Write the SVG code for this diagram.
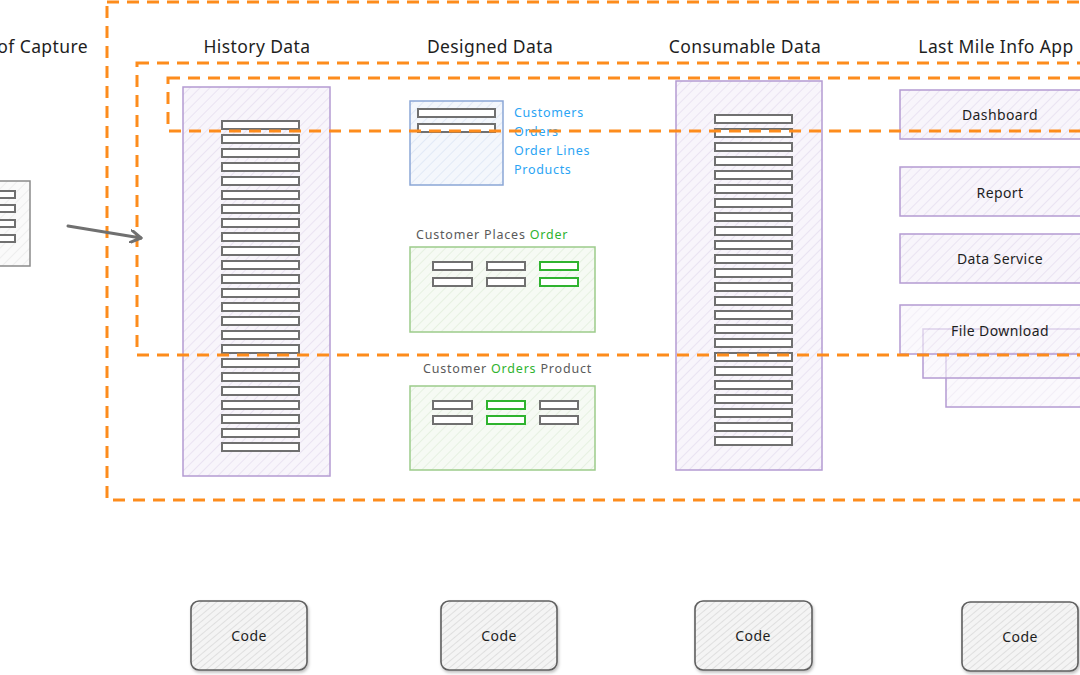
<svg xmlns="http://www.w3.org/2000/svg" width="1080" height="675" viewBox="0 0 1080 675">
<style>
text{font-family:"Noto Sans","DejaVu Sans",sans-serif;}
.h{font-size:17.5px;fill:#1e1e1e;text-anchor:middle;letter-spacing:0.4px;}
.orange{fill:none;stroke:#fd8c1c;stroke-width:3;stroke-dasharray:12 8;}
.pbox{fill:url(#hp);stroke:#b49bd2;stroke-width:1.5;}
.bar{fill:#fff;stroke:#707070;stroke-width:2;}
.gbar{fill:#fff;stroke:#2fb32f;stroke-width:2;}
.lbl{font-size:14px;fill:#1e1e1e;text-anchor:middle;letter-spacing:0.4px;}
.blue{font-size:12.5px;fill:#2aa4f4;letter-spacing:0.7px;}
.gl{font-size:12.5px;fill:#5a5a5a;letter-spacing:0.8px;}
.code{fill:url(#hg);stroke:#5f5f5f;stroke-width:1.6;filter:url(#sh);}
</style>
<defs>
<pattern id="hp" width="7" height="7" patternUnits="userSpaceOnUse" patternTransform="rotate(45)"><rect width="7" height="7" fill="#f8f5fb"/><line x1="0" y1="0" x2="0" y2="7" stroke="#e1d8ec" stroke-width="1.2"/></pattern>
<pattern id="hb" width="7" height="7" patternUnits="userSpaceOnUse" patternTransform="rotate(45)"><rect width="7" height="7" fill="#f4f7fc"/><line x1="0" y1="0" x2="0" y2="7" stroke="#d5e0f2" stroke-width="1.2"/></pattern>
<pattern id="hgr" width="7" height="7" patternUnits="userSpaceOnUse" patternTransform="rotate(45)"><rect width="7" height="7" fill="#f6faf4"/><line x1="0" y1="0" x2="0" y2="7" stroke="#dcebd5" stroke-width="1.2"/></pattern>
<pattern id="hg" width="5" height="5" patternUnits="userSpaceOnUse" patternTransform="rotate(50)"><rect width="5" height="5" fill="#f4f4f4"/><line x1="0" y1="0" x2="0" y2="5" stroke="#cfcfcf" stroke-width="1.1"/></pattern>
<pattern id="hq" width="7" height="7" patternUnits="userSpaceOnUse" patternTransform="rotate(45)"><rect width="7" height="7" fill="#fafafa"/><line x1="0" y1="0" x2="0" y2="7" stroke="#e6e6e6" stroke-width="1.2"/></pattern>
<filter id="sh" x="-10%" y="-10%" width="130%" height="130%"><feDropShadow dx="1" dy="2" stdDeviation="1.5" flood-color="#000" flood-opacity="0.25"/></filter>
<marker id="arr" markerWidth="14" markerHeight="14" refX="11" refY="7" orient="auto" markerUnits="userSpaceOnUse"><path d="M1,1 L11,7 L1,13" fill="none" stroke="#707070" stroke-width="3" stroke-linecap="round" stroke-linejoin="round"/></marker>
</defs>
<rect width="1080" height="675" fill="#fff"/>

<!-- headings -->
<text x="88" y="53" class="h" style="text-anchor:end">of Capture</text>
<text x="257" y="53" class="h">History Data</text>
<text x="490" y="53" class="h">Designed Data</text>
<text x="745" y="53" class="h">Consumable Data</text>
<text x="996" y="53" class="h">Last Mile Info App</text>

<!-- source (partial) -->
<g id="source">
<rect x="-10" y="181" width="40" height="85" fill="url(#hq)" stroke="#8a8a8a" stroke-width="1.5"/>
<rect class="bar" x="-20" y="191" width="35" height="7"/>
<rect class="bar" x="-20" y="205" width="35" height="7"/>
<rect class="bar" x="-20" y="220" width="35" height="7"/>
<rect class="bar" x="-20" y="235" width="35" height="7"/>
</g>

<!-- history data -->
<g id="history">
<rect class="pbox" x="183" y="87" width="147" height="389"/>
<g class="bar">
<rect x="222" y="121" width="77" height="8"/><rect x="222" y="135" width="77" height="8"/><rect x="222" y="149" width="77" height="8"/><rect x="222" y="163" width="77" height="8"/>
<rect x="222" y="177" width="77" height="8"/><rect x="222" y="191" width="77" height="8"/><rect x="222" y="205" width="77" height="8"/><rect x="222" y="219" width="77" height="8"/>
<rect x="222" y="233" width="77" height="8"/><rect x="222" y="247" width="77" height="8"/><rect x="222" y="261" width="77" height="8"/><rect x="222" y="275" width="77" height="8"/>
<rect x="222" y="289" width="77" height="8"/><rect x="222" y="303" width="77" height="8"/><rect x="222" y="317" width="77" height="8"/><rect x="222" y="331" width="77" height="8"/>
<rect x="222" y="345" width="77" height="8"/><rect x="222" y="359" width="77" height="8"/><rect x="222" y="373" width="77" height="8"/><rect x="222" y="387" width="77" height="8"/>
<rect x="222" y="401" width="77" height="8"/><rect x="222" y="415" width="77" height="8"/><rect x="222" y="429" width="77" height="8"/><rect x="222" y="443" width="77" height="8"/>
</g>
</g>

<!-- designed data -->
<g id="entities">
<rect x="410" y="101" width="93" height="84" fill="url(#hb)" stroke="#8aa6d6" stroke-width="1.5"/>
<rect class="bar" x="418" y="109" width="77" height="8"/>
<rect class="bar" x="418" y="124" width="77" height="8"/>
<text x="514" y="117" class="blue">Customers</text>
<text x="514" y="136" class="blue">Orders</text>
<text x="514" y="155" class="blue">Order Lines</text>
<text x="514" y="174" class="blue">Products</text>
</g>
<g id="places-order">
<text x="416" y="239" class="gl">Customer Places <tspan fill="#2fb32f">Order</tspan></text>
<rect x="410" y="247" width="185" height="85" fill="url(#hgr)" stroke="#9ccb8a" stroke-width="1.5"/>
<rect class="bar" x="433" y="262" width="39" height="8"/><rect class="bar" x="487" y="262" width="38" height="8"/><rect class="gbar" x="540" y="262" width="38" height="8"/>
<rect class="bar" x="433" y="278" width="39" height="8"/><rect class="bar" x="487" y="278" width="38" height="8"/><rect class="gbar" x="540" y="278" width="38" height="8"/>
</g>
<g id="orders-product">
<text x="423" y="373" class="gl">Customer <tspan fill="#2fb32f">Orders</tspan> Product</text>
<rect x="410" y="386" width="185" height="84" fill="url(#hgr)" stroke="#9ccb8a" stroke-width="1.5"/>
<rect class="bar" x="433" y="401" width="39" height="8"/><rect class="gbar" x="487" y="401" width="38" height="8"/><rect class="bar" x="540" y="401" width="38" height="8"/>
<rect class="bar" x="433" y="416" width="39" height="8"/><rect class="gbar" x="487" y="416" width="38" height="8"/><rect class="bar" x="540" y="416" width="38" height="8"/>
</g>

<!-- consumable data -->
<g id="consumable">
<rect class="pbox" x="676" y="81" width="146" height="389"/>
<g class="bar">
<rect x="715" y="115" width="77" height="8"/><rect x="715" y="129" width="77" height="8"/><rect x="715" y="143" width="77" height="8"/><rect x="715" y="157" width="77" height="8"/>
<rect x="715" y="171" width="77" height="8"/><rect x="715" y="185" width="77" height="8"/><rect x="715" y="199" width="77" height="8"/><rect x="715" y="213" width="77" height="8"/>
<rect x="715" y="227" width="77" height="8"/><rect x="715" y="241" width="77" height="8"/><rect x="715" y="255" width="77" height="8"/><rect x="715" y="269" width="77" height="8"/>
<rect x="715" y="283" width="77" height="8"/><rect x="715" y="297" width="77" height="8"/><rect x="715" y="311" width="77" height="8"/><rect x="715" y="325" width="77" height="8"/>
<rect x="715" y="339" width="77" height="8"/><rect x="715" y="353" width="77" height="8"/><rect x="715" y="367" width="77" height="8"/><rect x="715" y="381" width="77" height="8"/>
<rect x="715" y="395" width="77" height="8"/><rect x="715" y="409" width="77" height="8"/><rect x="715" y="423" width="77" height="8"/><rect x="715" y="437" width="77" height="8"/>
</g>
</g>

<!-- app -->
<g id="dashboard"><rect class="pbox" x="900" y="90" width="190" height="49"/><text x="1000" y="120" class="lbl">Dashboard</text></g>
<g id="report"><rect class="pbox" x="900" y="167" width="190" height="49"/><text x="1000" y="198" class="lbl">Report</text></g>
<g id="data-service"><rect class="pbox" x="900" y="234" width="190" height="49"/><text x="1000" y="264" class="lbl">Data Service</text></g>
<g id="file-download">
<rect class="pbox" x="946" y="353" width="150" height="54" fill-opacity="0.6"/>
<rect class="pbox" x="923" y="329" width="170" height="49" fill-opacity="0.6"/>
<rect class="pbox" x="900" y="305" width="190" height="49" style="fill-opacity:0.6"/>
<text x="1000" y="336" class="lbl">File Download</text>
</g>

<!-- code boxes -->
<g id="code1"><rect class="code" x="191" y="601" width="116" height="69" rx="8"/><text x="249" y="641" class="lbl">Code</text></g>
<g id="code2"><rect class="code" x="441" y="601" width="116" height="69" rx="8"/><text x="499" y="641" class="lbl">Code</text></g>
<g id="code3"><rect class="code" x="695" y="601" width="117" height="69" rx="8"/><text x="753" y="641" class="lbl">Code</text></g>
<g id="code4"><rect class="code" x="962" y="602" width="116" height="69" rx="8"/><text x="1020" y="642" class="lbl">Code</text></g>

<!-- boundaries -->
<g id="boundaries">
<rect class="orange" x="107" y="2" width="1000" height="498"/>
<rect class="orange" x="137" y="63" width="970" height="292"/>
<rect class="orange" x="168" y="78" width="940" height="53"/>
</g>

<!-- connectors -->
<g id="connectors">
<path d="M68,226 L141,238" fill="none" stroke="#707070" stroke-width="3" stroke-linecap="round" marker-end="url(#arr)"/>
</g>
</svg>
